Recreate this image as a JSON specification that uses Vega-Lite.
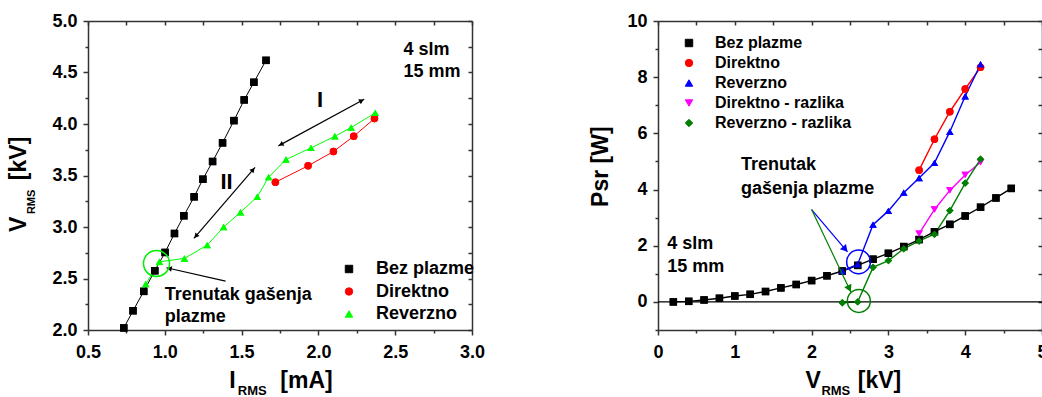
{
  "$schema": "https://vega.github.io/schema/vega-lite/v6.json",
  "background": "white",
  "padding": {"left": 8, "top": 12, "right": -5, "bottom": 0},
  "spacing": 104,
  "resolve": {"scale": {"color": "independent", "shape": "independent", "size": "independent"}, "legend": {"color": "independent", "shape": "independent"}},
  "config": {
    "view": {"stroke": null},
    "font": "Liberation Sans",
    "axis": {"labelFont": "Liberation Sans", "labelFontSize": 18, "labelFontWeight": "bold", "labelColor": "#000", "domainColor": "#333", "domainWidth": 1.5, "tickColor": "#333", "tickWidth": 1.5, "grid": false, "labelFlush": false},
    "text": {"font": "Liberation Sans", "fontWeight": "bold", "color": "#000"}
  },
  "datasets": {
    "left": [
      {"s": "Bez plazme", "I": 0.733, "V": 2.02}, {"s": "Bez plazme", "I": 0.793, "V": 2.187}, {"s": "Bez plazme", "I": 0.863, "V": 2.375}, {"s": "Bez plazme", "I": 0.935, "V": 2.575}, {"s": "Bez plazme", "I": 1.002, "V": 2.753}, {"s": "Bez plazme", "I": 1.063, "V": 2.937}, {"s": "Bez plazme", "I": 1.124, "V": 3.109}, {"s": "Bez plazme", "I": 1.191, "V": 3.293}, {"s": "Bez plazme", "I": 1.248, "V": 3.464}, {"s": "Bez plazme", "I": 1.311, "V": 3.636}, {"s": "Bez plazme", "I": 1.376, "V": 3.817}, {"s": "Bez plazme", "I": 1.45, "V": 4.033}, {"s": "Bez plazme", "I": 1.517, "V": 4.234}, {"s": "Bez plazme", "I": 1.58, "V": 4.405}, {"s": "Bez plazme", "I": 1.659, "V": 4.618},
      {"s": "Direktno", "I": 1.72, "V": 3.435}, {"s": "Direktno", "I": 1.933, "V": 3.594}, {"s": "Direktno", "I": 2.098, "V": 3.733}, {"s": "Direktno", "I": 2.23, "V": 3.881}, {"s": "Direktno", "I": 2.365, "V": 4.053},
      {"s": "Reverzno", "I": 0.876, "V": 2.446}, {"s": "Reverzno", "I": 0.965, "V": 2.662}, {"s": "Reverzno", "I": 1.128, "V": 2.695}, {"s": "Reverzno", "I": 1.276, "V": 2.824}, {"s": "Reverzno", "I": 1.383, "V": 3.0}, {"s": "Reverzno", "I": 1.493, "V": 3.144}, {"s": "Reverzno", "I": 1.602, "V": 3.293}, {"s": "Reverzno", "I": 1.676, "V": 3.484}, {"s": "Reverzno", "I": 1.789, "V": 3.655}, {"s": "Reverzno", "I": 1.952, "V": 3.768}, {"s": "Reverzno", "I": 2.107, "V": 3.881}, {"s": "Reverzno", "I": 2.213, "V": 3.965}, {"s": "Reverzno", "I": 2.37, "V": 4.108}
    ],
    "right": [
      {"s": "Bez plazme", "V": 0.2, "P": 0.0}, {"s": "Bez plazme", "V": 0.4, "P": 0.02}, {"s": "Bez plazme", "V": 0.6, "P": 0.07}, {"s": "Bez plazme", "V": 0.8, "P": 0.13}, {"s": "Bez plazme", "V": 1.0, "P": 0.21}, {"s": "Bez plazme", "V": 1.2, "P": 0.27}, {"s": "Bez plazme", "V": 1.4, "P": 0.37}, {"s": "Bez plazme", "V": 1.6, "P": 0.5}, {"s": "Bez plazme", "V": 1.8, "P": 0.62}, {"s": "Bez plazme", "V": 2.0, "P": 0.76}, {"s": "Bez plazme", "V": 2.2, "P": 0.93}, {"s": "Bez plazme", "V": 2.4, "P": 1.1}, {"s": "Bez plazme", "V": 2.6, "P": 1.3}, {"s": "Bez plazme", "V": 2.8, "P": 1.52}, {"s": "Bez plazme", "V": 3.0, "P": 1.73}, {"s": "Bez plazme", "V": 3.2, "P": 1.97}, {"s": "Bez plazme", "V": 3.4, "P": 2.22}, {"s": "Bez plazme", "V": 3.6, "P": 2.5}, {"s": "Bez plazme", "V": 3.8, "P": 2.76}, {"s": "Bez plazme", "V": 4.0, "P": 3.06}, {"s": "Bez plazme", "V": 4.2, "P": 3.37}, {"s": "Bez plazme", "V": 4.4, "P": 3.7}, {"s": "Bez plazme", "V": 4.6, "P": 4.04},
      {"s": "Direktno", "V": 3.4, "P": 4.69}, {"s": "Direktno", "V": 3.6, "P": 5.79}, {"s": "Direktno", "V": 3.8, "P": 6.77}, {"s": "Direktno", "V": 4.0, "P": 7.58}, {"s": "Direktno", "V": 4.2, "P": 8.35},
      {"s": "Reverzno", "V": 2.4, "P": 1.1}, {"s": "Reverzno", "V": 2.6, "P": 1.34}, {"s": "Reverzno", "V": 2.8, "P": 2.75}, {"s": "Reverzno", "V": 3.0, "P": 3.24}, {"s": "Reverzno", "V": 3.2, "P": 3.89}, {"s": "Reverzno", "V": 3.4, "P": 4.41}, {"s": "Reverzno", "V": 3.6, "P": 4.95}, {"s": "Reverzno", "V": 3.8, "P": 6.06}, {"s": "Reverzno", "V": 4.0, "P": 7.32}, {"s": "Reverzno", "V": 4.2, "P": 8.46},
      {"s": "Direktno - razlika", "V": 3.4, "P": 2.43}, {"s": "Direktno - razlika", "V": 3.6, "P": 3.29}, {"s": "Direktno - razlika", "V": 3.8, "P": 3.97}, {"s": "Direktno - razlika", "V": 4.0, "P": 4.52}, {"s": "Direktno - razlika", "V": 4.2, "P": 4.97},
      {"s": "Reverzno - razlika", "V": 2.4, "P": -0.03}, {"s": "Reverzno - razlika", "V": 2.6, "P": 0.0}, {"s": "Reverzno - razlika", "V": 2.8, "P": 1.23}, {"s": "Reverzno - razlika", "V": 3.0, "P": 1.47}, {"s": "Reverzno - razlika", "V": 3.2, "P": 1.89}, {"s": "Reverzno - razlika", "V": 3.4, "P": 2.17}, {"s": "Reverzno - razlika", "V": 3.6, "P": 2.41}, {"s": "Reverzno - razlika", "V": 3.8, "P": 3.25}, {"s": "Reverzno - razlika", "V": 4.0, "P": 4.23}, {"s": "Reverzno - razlika", "V": 4.2, "P": 5.08}
    ]
  },
  "hconcat": [
    {
      "width": 384, "height": 309,
      "resolve": {"scale": {"x": "independent", "y": "independent"}},
      "layer": [
        {
          "layer": [
            {
              "data": {"name": "left"},
              "mark": {"type": "point", "filled": true, "opacity": 1, "size": 55},
              "encoding": {
                "x": {"field": "I", "type": "quantitative", "scale": {"domain": [0.5, 3], "nice": false, "zero": false}, "axis": null},
                "y": {"field": "V", "type": "quantitative", "scale": {"domain": [2, 5], "nice": false, "zero": false}, "axis": null},
                "color": {"field": "s", "type": "nominal", "scale": {"domain": ["Bez plazme", "Direktno", "Reverzno"], "range": ["#000000", "#ff0000", "#00ff00"]},
                  "legend": {"orient": "none", "legendX": 252, "legendY": 239, "title": null, "padding": 0, "labelFont": "Liberation Sans", "labelFontSize": 18, "labelFontWeight": "bold", "labelColor": "#000", "symbolSize": 55, "symbolStrokeWidth": 1, "rowPadding": 4.5, "labelOffset": 18}},
                "shape": {"field": "s", "type": "nominal", "scale": {"domain": ["Bez plazme", "Direktno", "Reverzno"], "range": ["square", "circle", "triangle-up"]}, "legend": null}
              }
            },
            {
              "data": {"name": "left"},
              "mark": {"type": "line", "strokeWidth": 1},
              "encoding": {
                "x": {"field": "I", "type": "quantitative", "axis": null},
                "y": {"field": "V", "type": "quantitative", "axis": null},
                "color": {"field": "s", "type": "nominal"}
              }
            },
            {
              "data": {"name": "left"},
              "mark": {"type": "point", "filled": true, "opacity": 1, "size": 55},
              "encoding": {
                "x": {"field": "I", "type": "quantitative", "axis": null},
                "y": {"field": "V", "type": "quantitative", "axis": null},
                "color": {"field": "s", "type": "nominal"},
                "shape": {"field": "s", "type": "nominal", "legend": null}
              }
            },
            {
              "data": {"values": [{"x": 1.7394, "y": 3.7876, "x2": 2.2984, "y2": 4.2405}, {"x": 1.1895, "y": 2.8894, "x2": 1.5874, "y2": 3.5781}, {"x": 1.3956, "y": 2.4753, "x2": 1.0108, "y2": 2.6043}]},
              "mark": {"type": "rule", "color": "#000", "strokeWidth": 1.2},
              "encoding": {"x": {"field": "x", "type": "quantitative", "axis": null}, "y": {"field": "y", "type": "quantitative", "axis": null}, "x2": {"field": "x2"}, "y2": {"field": "y2"}}
            },
            {"data": {"values": [{}]}, "mark": {"type": "point", "shape": "triangle-up", "filled": true, "color": "#000", "opacity": 1, "size": 30, "angle": 282.7}, "encoding": {"x": {"datum": 1.0297, "axis": null}, "y": {"datum": 2.5975, "axis": null}}},
            {"data": {"values": [{}]}, "mark": {"type": "point", "shape": "triangle-up", "filled": true, "color": "#000", "opacity": 1, "size": 30, "angle": 61.4}, "encoding": {"x": {"datum": 2.2815, "axis": null}, "y": {"datum": 4.227, "axis": null}}},
            {"data": {"values": [{}]}, "mark": {"type": "point", "shape": "triangle-up", "filled": true, "color": "#000", "opacity": 1, "size": 30, "angle": 241.4}, "encoding": {"x": {"datum": 1.7564, "axis": null}, "y": {"datum": 3.8012, "axis": null}}},
            {"data": {"values": [{}]}, "mark": {"type": "point", "shape": "triangle-up", "filled": true, "color": "#000", "opacity": 1, "size": 30, "angle": 40.7}, "encoding": {"x": {"datum": 1.5744, "axis": null}, "y": {"datum": 3.5558, "axis": null}}},
            {"data": {"values": [{}]}, "mark": {"type": "point", "shape": "triangle-up", "filled": true, "color": "#000", "opacity": 1, "size": 30, "angle": 220.7}, "encoding": {"x": {"datum": 1.2025, "axis": null}, "y": {"datum": 2.9117, "axis": null}}},
            {"data": {"values": [{}]}, "mark": {"type": "point", "shape": "circle", "filled": false, "color": "#00ee00", "strokeWidth": 1.5, "opacity": 1, "size": 676}, "encoding": {"x": {"datum": 0.946, "axis": null}, "y": {"datum": 2.646, "axis": null}}},
            {
              "data": {"values": [{"t": "4 slm", "x": 2.554, "y": 4.722}, {"t": "15 mm", "x": 2.554, "y": 4.502}, {"t": "Trenutak gašenja", "x": 1.0, "y": 2.339}, {"t": "plazme", "x": 1.0, "y": 2.123}]},
              "mark": {"type": "text", "fontSize": 18, "align": "left", "baseline": "middle"},
              "encoding": {"x": {"field": "x", "type": "quantitative", "axis": null}, "y": {"field": "y", "type": "quantitative", "axis": null}, "text": {"field": "t"}}
            },
            {
              "data": {"values": [{"t": "I", "x": 2.011, "y": 4.23}, {"t": "II", "x": 1.402, "y": 3.438}]},
              "mark": {"type": "text", "fontSize": 22, "align": "center", "baseline": "middle"},
              "encoding": {"x": {"field": "x", "type": "quantitative", "axis": null}, "y": {"field": "y", "type": "quantitative", "axis": null}, "text": {"field": "t"}}
            },
            {
              "data": {"values": [{"t": "I", "x": 1.4198, "y": 1.4346}, {"t": "[mA]", "x": 1.7524, "y": 1.4346}]},
              "mark": {"type": "text", "fontSize": 23, "align": "left", "baseline": "alphabetic"},
              "encoding": {"x": {"field": "x", "type": "quantitative", "axis": null}, "y": {"field": "y", "type": "quantitative", "axis": null}, "text": {"field": "t"}}
            },
            {
              "data": {"values": [{"t": "RMS", "x": 1.4752, "y": 1.3695}]},
              "mark": {"type": "text", "fontSize": 13, "align": "left", "baseline": "alphabetic"},
              "encoding": {"x": {"field": "x", "type": "quantitative", "axis": null}, "y": {"field": "y", "type": "quantitative", "axis": null}, "text": {"field": "t"}}
            },
            {
              "data": {"values": [{"t": "V", "x": 0.0988, "y": 2.9505}, {"t": "[kV]", "x": 0.0988, "y": 3.4549}]},
              "mark": {"type": "text", "fontSize": 23, "align": "left", "baseline": "alphabetic", "angle": 270},
              "encoding": {"x": {"field": "x", "type": "quantitative", "axis": null}, "y": {"field": "y", "type": "quantitative", "axis": null}, "text": {"field": "t"}}
            },
            {
              "data": {"values": [{"t": "RMS", "x": 0.1575, "y": 3.1251}]},
              "mark": {"type": "text", "fontSize": 11, "align": "left", "baseline": "alphabetic", "angle": 270},
              "encoding": {"x": {"field": "x", "type": "quantitative", "axis": null}, "y": {"field": "y", "type": "quantitative", "axis": null}, "text": {"field": "t"}}
            }
          ]
        },
        {
          "data": {"values": [{}]},
          "mark": {"type": "point", "opacity": 0},
          "encoding": {
            "x": {"datum": 1, "type": "quantitative", "scale": {"domain": [0.5, 3], "nice": false, "zero": false}, "axis": {"orient": "bottom", "values": [0.5, 1, 1.5, 2, 2.5, 3], "format": ".1f", "tickSize": 5, "labelPadding": 8, "title": null}},
            "y": {"datum": 3, "type": "quantitative", "scale": {"domain": [2, 5], "nice": false, "zero": false}, "axis": {"orient": "left", "values": [2, 2.5, 3, 3.5, 4, 4.5, 5], "format": ".1f", "tickSize": 5, "labelPadding": 6, "title": null}}
          }
        },
        {
          "data": {"values": [{}]},
          "mark": {"type": "point", "opacity": 0},
          "encoding": {
            "x": {"datum": 1, "type": "quantitative", "scale": {"domain": [0.5, 3], "nice": false, "zero": false}, "axis": {"orient": "bottom", "values": [0.75, 1.25, 1.75, 2.25, 2.75], "labels": false, "domain": false, "tickSize": 3, "title": null}},
            "y": {"datum": 3, "type": "quantitative", "scale": {"domain": [2, 5], "nice": false, "zero": false}, "axis": {"orient": "left", "values": [2.25, 2.75, 3.25, 3.75, 4.25, 4.75], "labels": false, "domain": false, "tickSize": 3, "title": null}}
          }
        },
        {
          "data": {"values": [{}]},
          "mark": {"type": "point", "opacity": 0},
          "encoding": {
            "x": {"datum": 1, "type": "quantitative", "scale": {"domain": [0.5, 3], "nice": false, "zero": false}, "axis": {"orient": "top", "values": [0.5, 0.75, 1, 1.25, 1.5, 1.75, 2, 2.25, 2.5, 2.75, 3], "labels": false, "tickSize": -4, "title": null}},
            "y": {"datum": 3, "type": "quantitative", "scale": {"domain": [2, 5], "nice": false, "zero": false}, "axis": {"orient": "right", "values": [2, 2.25, 2.5, 2.75, 3, 3.25, 3.5, 3.75, 4, 4.25, 4.5, 4.75, 5], "labels": false, "tickSize": -4, "title": null}}
          }
        }
      ]
    },
    {
      "width": 384, "height": 309,
      "resolve": {"scale": {"x": "independent", "y": "independent"}},
      "layer": [
        {
          "layer": [
            {
              "data": {"name": "right"},
              "mark": {"type": "point", "filled": true, "opacity": 1, "size": 55},
              "encoding": {
                "x": {"field": "V", "type": "quantitative", "scale": {"domain": [0, 5], "nice": false, "zero": false}, "axis": null},
                "y": {"field": "P", "type": "quantitative", "scale": {"domain": [-1, 10], "nice": false, "zero": false}, "axis": null},
                "color": {"field": "s", "type": "nominal", "scale": {"domain": ["Bez plazme", "Direktno", "Reverzno", "Direktno - razlika", "Reverzno - razlika"], "range": ["#000000", "#ff0000", "#0000ff", "#ff00ff", "#008000"]},
                  "legend": {"orient": "none", "legendX": 23, "legendY": 14, "title": null, "padding": 0, "labelFont": "Liberation Sans", "labelFontSize": 16, "labelFontWeight": "bold", "labelColor": "#000", "symbolSize": 55, "symbolStrokeWidth": 1, "rowPadding": 4, "labelOffset": 18}},
                "shape": {"field": "s", "type": "nominal", "scale": {"domain": ["Bez plazme", "Direktno", "Reverzno", "Direktno - razlika", "Reverzno - razlika"], "range": ["square", "circle", "triangle-up", "triangle-down", "diamond"]}, "legend": null}
              }
            },
            {
              "data": {"name": "right"},
              "mark": {"type": "line", "strokeWidth": 1.4},
              "encoding": {
                "x": {"field": "V", "type": "quantitative", "axis": null},
                "y": {"field": "P", "type": "quantitative", "axis": null},
                "color": {"field": "s", "type": "nominal"}
              }
            },
            {"data": {"values": [{}]}, "mark": {"type": "rule", "color": "#000", "strokeWidth": 1.3}, "encoding": {"y": {"datum": 0, "axis": null}}},
            {
              "data": {"name": "right"},
              "mark": {"type": "point", "filled": true, "opacity": 1, "size": 55},
              "encoding": {
                "x": {"field": "V", "type": "quantitative", "axis": null},
                "y": {"field": "P", "type": "quantitative", "axis": null},
                "color": {"field": "s", "type": "nominal"},
                "shape": {"field": "s", "type": "nominal", "legend": null}
              }
            },
            {
              "data": {"values": [{"x": 2.0, "y": 3.288, "x2": 2.4675, "y2": 1.779}]},
              "mark": {"type": "rule", "color": "#0000ff", "strokeWidth": 1.2},
              "encoding": {"x": {"field": "x", "type": "quantitative", "axis": null}, "y": {"field": "y", "type": "quantitative", "axis": null}, "x2": {"field": "x2"}, "y2": {"field": "y2"}}
            },
            {
              "data": {"values": [{"x": 2.0, "y": 3.288, "x2": 2.5104, "y2": 0.356}]},
              "mark": {"type": "rule", "color": "#008000", "strokeWidth": 1.2},
              "encoding": {"x": {"field": "x", "type": "quantitative", "axis": null}, "y": {"field": "y", "type": "quantitative", "axis": null}, "x2": {"field": "x2"}, "y2": {"field": "y2"}}
            },
            {"data": {"values": [{}]}, "mark": {"type": "point", "shape": "triangle-up", "filled": true, "color": "#0000ff", "opacity": 1, "size": 64, "angle": 139.7}, "encoding": {"x": {"datum": 2.4377, "axis": null}, "y": {"datum": 1.8754, "axis": null}}},
            {"data": {"values": [{}]}, "mark": {"type": "point", "shape": "triangle-up", "filled": true, "color": "#008000", "opacity": 1, "size": 64, "angle": 154.5}, "encoding": {"x": {"datum": 2.4909, "axis": null}, "y": {"datum": 0.4698, "axis": null}}},
            {"data": {"values": [{}]}, "mark": {"type": "point", "shape": "circle", "filled": false, "color": "#0000ff", "strokeWidth": 1.5, "opacity": 1, "size": 560}, "encoding": {"x": {"datum": 2.611, "axis": null}, "y": {"datum": 1.423, "axis": null}}},
            {"data": {"values": [{}]}, "mark": {"type": "point", "shape": "circle", "filled": false, "color": "#008000", "strokeWidth": 1.5, "opacity": 1, "size": 530}, "encoding": {"x": {"datum": 2.615, "axis": null}, "y": {"datum": 0.036, "axis": null}}},
            {
              "data": {"values": [{"t": "Trenutak", "x": 1.0818, "y": 4.865}, {"t": "gašenja plazme", "x": 1.0818, "y": 4.011}, {"t": "4 slm", "x": 0.1208, "y": 2.078}, {"t": "15 mm", "x": 0.1208, "y": 1.2456}]},
              "mark": {"type": "text", "fontSize": 18, "align": "left", "baseline": "middle"},
              "encoding": {"x": {"field": "x", "type": "quantitative", "axis": null}, "y": {"field": "y", "type": "quantitative", "axis": null}, "text": {"field": "t"}}
            },
            {
              "data": {"values": [{"t": "V", "x": 1.9195, "y": -3.0819}, {"t": "[kV]", "x": 2.6013, "y": -3.0819}]},
              "mark": {"type": "text", "fontSize": 23, "align": "left", "baseline": "alphabetic"},
              "encoding": {"x": {"field": "x", "type": "quantitative", "axis": null}, "y": {"field": "y", "type": "quantitative", "axis": null}, "text": {"field": "t"}}
            },
            {
              "data": {"values": [{"t": "RMS", "x": 2.1273, "y": -3.3203}]},
              "mark": {"type": "text", "fontSize": 13, "align": "left", "baseline": "alphabetic"},
              "encoding": {"x": {"field": "x", "type": "quantitative", "axis": null}, "y": {"field": "y", "type": "quantitative", "axis": null}, "text": {"field": "t"}}
            },
            {
              "data": {"values": [{"t": "Psr [W]", "x": -0.652, "y": 3.381}]},
              "mark": {"type": "text", "fontSize": 23, "align": "left", "baseline": "alphabetic", "angle": 270},
              "encoding": {"x": {"field": "x", "type": "quantitative", "axis": null}, "y": {"field": "y", "type": "quantitative", "axis": null}, "text": {"field": "t"}}
            }
          ]
        },
        {
          "data": {"values": [{}]},
          "mark": {"type": "point", "opacity": 0},
          "encoding": {
            "x": {"datum": 1, "type": "quantitative", "scale": {"domain": [0, 5], "nice": false, "zero": false}, "axis": {"orient": "bottom", "values": [0, 1, 2, 3, 4, 5], "format": "d", "tickSize": 5, "labelPadding": 8, "title": null}},
            "y": {"datum": 3, "type": "quantitative", "scale": {"domain": [-1, 10], "nice": false, "zero": false}, "axis": {"orient": "left", "values": [0, 2, 4, 6, 8, 10], "format": "d", "tickSize": 5, "labelPadding": 6, "title": null}}
          }
        },
        {
          "data": {"values": [{}]},
          "mark": {"type": "point", "opacity": 0},
          "encoding": {
            "x": {"datum": 1, "type": "quantitative", "scale": {"domain": [0, 5], "nice": false, "zero": false}, "axis": {"orient": "bottom", "values": [0.5, 1.5, 2.5, 3.5, 4.5], "labels": false, "domain": false, "tickSize": 3, "title": null}},
            "y": {"datum": 3, "type": "quantitative", "scale": {"domain": [-1, 10], "nice": false, "zero": false}, "axis": {"orient": "left", "values": [-1, 1, 3, 5, 7, 9], "labels": false, "domain": false, "tickSize": 3, "title": null}}
          }
        },
        {
          "data": {"values": [{}]},
          "mark": {"type": "point", "opacity": 0},
          "encoding": {
            "x": {"datum": 1, "type": "quantitative", "scale": {"domain": [0, 5], "nice": false, "zero": false}, "axis": {"orient": "top", "values": [0, 0.5, 1, 1.5, 2, 2.5, 3, 3.5, 4, 4.5, 5], "labels": false, "tickSize": -4, "title": null}},
            "y": {"datum": 3, "type": "quantitative", "scale": {"domain": [-1, 10], "nice": false, "zero": false}, "axis": {"orient": "right", "values": [-1, 0, 1, 2, 3, 4, 5, 6, 7, 8, 9, 10], "labels": false, "tickSize": -4, "title": null}}
          }
        }
      ]
    }
  ]
}
